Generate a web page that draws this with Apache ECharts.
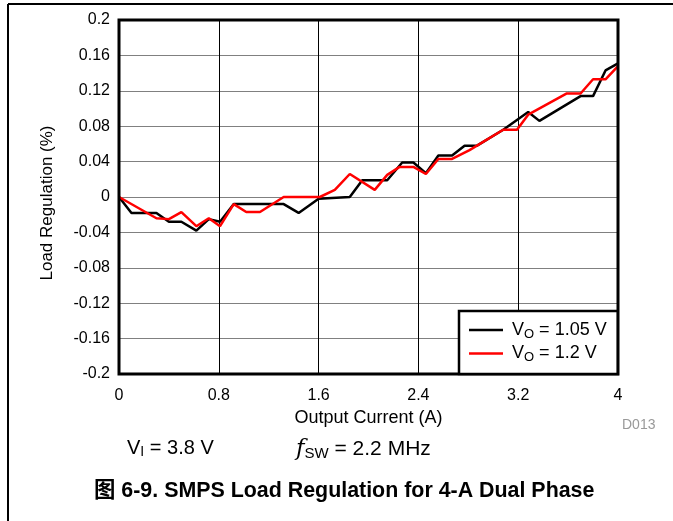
<!DOCTYPE html>
<html><head><meta charset="utf-8">
<script src="https://cdn.jsdelivr.net/npm/echarts@6/dist/echarts.min.js"></script>
<style>html,body{margin:0;padding:0;background:#fff}#c{width:673px;height:521px}</style>
</head><body><div id="c"></div>
<script>
const blackX = [0, 0.1, 0.3, 0.4, 0.5, 0.62, 0.72, 0.81, 0.92, 1.32, 1.44, 1.53, 1.6, 1.85, 1.95, 2.15, 2.27, 2.36, 2.46, 2.56, 2.67, 2.77, 2.87, 3.08, 3.28, 3.37, 3.70, 3.80, 3.90, 4.0];
const blackY = [0, -0.018, -0.018, -0.028, -0.028, -0.038, -0.025, -0.028, -0.008, -0.008, -0.018, -0.009, -0.002, 0, 0.019, 0.019, 0.039, 0.039, 0.027, 0.047, 0.047, 0.058, 0.058, 0.076, 0.096, 0.086, 0.114, 0.114, 0.143, 0.151];
const redX = [0, 0.3, 0.4, 0.5, 0.62, 0.72, 0.81, 0.92, 1.02, 1.13, 1.32, 1.61, 1.73, 1.85, 2.05, 2.15, 2.25, 2.36, 2.46, 2.56, 2.67, 2.81, 3.08, 3.19, 3.28, 3.59, 3.70, 3.80, 3.90, 4.0];
const redY = [0, -0.024, -0.025, -0.017, -0.033, -0.024, -0.033, -0.008, -0.017, -0.017, 0, 0, 0.008, 0.026, 0.008, 0.025, 0.034, 0.034, 0.026, 0.043, 0.043, 0.053, 0.076, 0.076, 0.093, 0.117, 0.117, 0.133, 0.133, 0.148];
const seriesNames = ['V_O = 1.05 V', 'V_O = 1.2 V'];
const legendLabels = ['{v|V}{s|O}{a| = 1.05 V}', '{v|V}{s|O}{a| = 1.2 V}'];
const xTicks = {min: 0, max: 4, interval: 0.8};
const yTicks = {min: -0.2, max: 0.2, interval: 0.04};

const pair = (xs, ys) => xs.map((x, i) => [x, ys[i]]);
const font = '"Liberation Sans", Arial, sans-serif';
const chart = echarts.init(document.getElementById('c'), null, {renderer: 'canvas'});
chart.setOption({
  animation: false,
  backgroundColor: '#fff',
  grid: {left: 119, right: 55, top: 20, bottom: 147, show: true, borderColor: '#000', borderWidth: 3, backgroundColor: 'transparent', z: 10},
  xAxis: {
    type: 'value', min: xTicks.min, max: xTicks.max, interval: xTicks.interval,
    name: 'Output Current (A)', nameLocation: 'middle', nameGap: 30,
    nameTextStyle: {fontFamily: font, fontSize: 18, color: '#000'},
    axisLine: {show: false}, axisTick: {show: false},
    axisLabel: {fontFamily: font, fontSize: 16, color: '#000', margin: 14,
      formatter: v => String(parseFloat(v.toFixed(2)))},
    splitLine: {show: true, lineStyle: {color: '#000', width: 1}}
  },
  yAxis: {
    type: 'value', min: yTicks.min, max: yTicks.max, interval: yTicks.interval,
    name: 'Load Regulation (%)', nameLocation: 'middle', nameGap: 63,
    nameTextStyle: {fontFamily: font, fontSize: 17, color: '#000', padding: [0, 12, 0, 0]},
    axisLine: {show: false}, axisTick: {show: false},
    axisLabel: {fontFamily: font, fontSize: 16, color: '#000', margin: 9,
      formatter: v => String(parseFloat(v.toFixed(2)))},
    splitLine: {show: true, lineStyle: {color: '#808080', width: 1}}
  },
  legend: {
    left: 459, top: 311, orient: 'vertical', itemGap: 4,
    itemWidth: 34, itemHeight: 19,
    backgroundColor: '#fff', borderColor: '#000', borderWidth: 2.5,
    padding: [10, 11, 10, 10], icon: 'path://M0,8L34,8L34,10.5L0,10.5Z',
    data: seriesNames,
    formatter: name => legendLabels[seriesNames.indexOf(name)],
    textStyle: {fontFamily: font, color: '#000', rich: {
      v: {fontFamily: font, fontSize: 18, color: '#000', padding: [0, 0, 0, 4]},
      a: {fontFamily: font, fontSize: 18, color: '#000'},
      s: {fontFamily: font, fontSize: 13, color: '#000', padding: [8, 0, 0, 0]}
    }},
    z: 20
  },
  series: [
    {name: seriesNames[0], type: 'line', data: pair(blackX, blackY), showSymbol: false, symbol: 'none',
     lineStyle: {color: '#000', width: 2.5}, itemStyle: {color: '#000'}, z: 3},
    {name: seriesNames[1], type: 'line', data: pair(redX, redY), showSymbol: false, symbol: 'none',
     lineStyle: {color: '#ff0000', width: 2.5}, itemStyle: {color: '#ff0000'}, z: 4}
  ],
  graphic: [
    {type: 'line', shape: {x1: 8, y1: 4, x2: 673, y2: 4}, style: {stroke: '#000', lineWidth: 2}},
    {type: 'line', shape: {x1: 8, y1: 4, x2: 8, y2: 521}, style: {stroke: '#000', lineWidth: 2}},
    {type: 'text', left: 622, top: 418, style: {text: 'D013', font: '14px ' + font, fill: '#999'}},
    {type: 'text', left: 127, top: 438, style: {text: '{a|V}{s|I}{a| = 3.8 V}', rich: {
      a: {fontFamily: font, fontSize: 20, fill: '#000'},
      s: {fontFamily: font, fontSize: 14, fill: '#000', padding: [9, 0, 0, 0]}}}},
    {type: 'text', left: 296, top: 438, style: {text: '{f|f}{s|SW}{a| = 2.2 MHz}', rich: {
      f: {fontFamily: '"DejaVu Serif", serif', fontStyle: 'italic', fontSize: 23, fill: '#000'},
      a: {fontFamily: font, fontSize: 21, fill: '#000'},
      s: {fontFamily: font, fontSize: 15, fill: '#000', padding: [9, 0, 0, 0]}}}},
    {type: 'text', left: 94, top: 480, style: {text: '图 6-9. SMPS Load Regulation for 4-A Dual Phase',
      font: 'bold 21.4px "Liberation Sans", "Noto Sans CJK SC", Arial, sans-serif', fill: '#000'}}
  ]
});
</script></body></html>
